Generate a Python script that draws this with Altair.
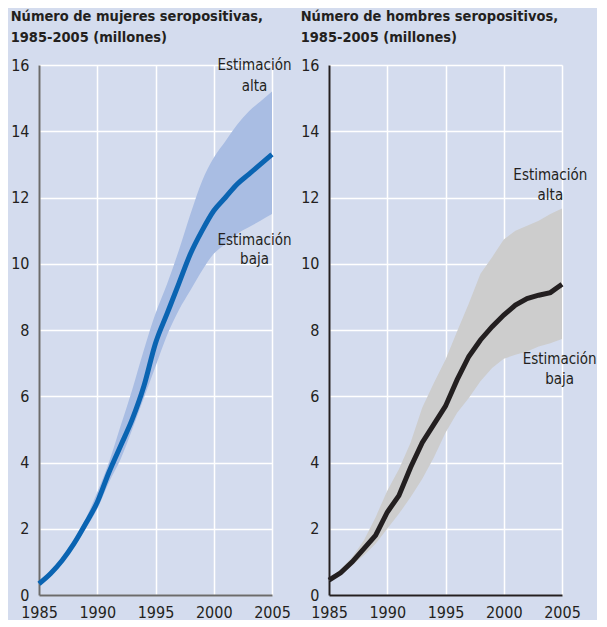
import altair as alt
import pandas as pd

years = list(range(1985, 2006))

women_mid = [0.34, 0.65, 1.05, 1.55, 2.15, 2.8, 3.7, 4.5, 5.3, 6.3, 7.6, 8.5, 9.4, 10.3, 11.0, 11.6, 12.0, 12.4, 12.7, 13.0, 13.3]
women_low = [0.32, 0.6, 1.0, 1.45, 2.0, 2.6, 3.4, 4.1, 5.0, 5.95, 6.9, 7.85, 8.6, 9.2, 9.8, 10.3, 10.6, 10.9, 11.1, 11.3, 11.5]
women_high = [0.36, 0.68, 1.1, 1.65, 2.3, 3.1, 4.0, 5.1, 6.2, 7.4, 8.5, 9.4, 10.4, 11.5, 12.5, 13.2, 13.7, 14.2, 14.6, 14.9, 15.2]

men_mid = [0.45, 0.67, 1.0, 1.4, 1.8, 2.5, 3.0, 3.85, 4.6, 5.15, 5.7, 6.5, 7.2, 7.7, 8.1, 8.45, 8.75, 8.95, 9.05, 9.13, 9.38]
men_low = [0.42, 0.6, 0.9, 1.2, 1.55, 2.0, 2.45, 2.95, 3.5, 4.15, 4.9, 5.5, 5.95, 6.45, 6.85, 7.13, 7.25, 7.35, 7.5, 7.6, 7.73]
men_high = [0.5, 0.78, 1.15, 1.65, 2.35, 3.15, 3.8, 4.6, 5.65, 6.4, 7.1, 7.96, 8.8, 9.7, 10.2, 10.73, 11.0, 11.15, 11.3, 11.5, 11.67]

x_ticks = [1985, 1990, 1995, 2000, 2005]
y_ticks = [0, 2, 4, 6, 8, 10, 12, 14, 16]

women_title = ["Número de mujeres seropositivas,", "1985-2005 (millones)"]
men_title = ["Número de hombres seropositivos,", "1985-2005 (millones)"]

# annotation labels (anchored in data coordinates)
women_ann_text = ["Estimación", "alta", "Estimación", "baja"]
women_ann_x = [2003.5, 2003.5, 2003.5, 2003.5]
women_ann_y = [16.0, 15.37, 10.73, 10.13]

men_ann_text = ["Estimación", "alta", "Estimación", "baja"]
men_ann_x = [2004.0, 2004.0, 2004.8, 2004.8]
men_ann_y = [12.67, 12.07, 7.13, 6.53]

BG = "#d4dcee"
FONT = "DejaVu Sans Condensed, Roboto, sans-serif"
TXT = "#231f20"


def panel(mid, low, high, band_color, line_color, title, at, ax, ay, axis_color, interp):
    df = pd.DataFrame({"year": years, "mid": mid, "low": low, "high": high})
    ann = pd.DataFrame({"t": at, "x": ax, "y": ay})
    xs = alt.Scale(domain=[1985, 2005], nice=False, zero=False)
    ys = alt.Scale(domain=[0, 16], nice=False)
    xaxis = alt.Axis(values=x_ticks, format="d", title=None, domainColor=axis_color,
                     domainWidth=2, labelPadding=9, labelFlush=False, labelOverlap=False)
    yaxis = alt.Axis(values=y_ticks, title=None, domainColor=axis_color,
                     domainWidth=2, labelPadding=10)
    band = alt.Chart(df).mark_area(color=band_color, opacity=1, interpolate=interp).encode(
        x=alt.X("year:Q", scale=xs, axis=xaxis),
        y=alt.Y("low:Q", scale=ys, axis=yaxis),
        y2="high:Q",
    )
    line = alt.Chart(df).mark_line(color=line_color, strokeWidth=5, interpolate=interp).encode(
        x=alt.X("year:Q", scale=xs),
        y=alt.Y("mid:Q", scale=ys),
    )
    text = alt.Chart(ann).mark_text(font=FONT, fontSize=15, color=TXT, align="center",
                                    baseline="middle").encode(
        x=alt.X("x:Q", scale=xs),
        y=alt.Y("y:Q", scale=ys),
        text="t:N",
    )
    return alt.layer(band, line, text).properties(
        width=233, height=530,
        title=alt.Title(title, anchor="start", frame="bounds", font=FONT, fontSize=14.5,
                        fontWeight="bold", color=TXT, lineHeight=21, offset=12),
    )


left = panel(women_mid, women_low, women_high, "#a9bde3", "#0a64b2", women_title,
             women_ann_text, women_ann_x, women_ann_y, "#6b6b6b", "monotone")
right = panel(men_mid, men_low, men_high, "#cdcdcd", "#231f20", men_title,
              men_ann_text, men_ann_x, men_ann_y, "#231f20", "linear")

chart = alt.hconcat(left, right, spacing=57, bounds="flush").properties(
    background=BG, padding={"left": 2, "top": 0, "right": 0, "bottom": 0}
).configure_view(stroke=None).configure_axis(
    grid=True, gridColor="white", gridWidth=1.5, tickSize=0,
    labelFont=FONT, labelFontSize=16, labelColor=TXT,
)

chart.save("out.html", embed_options={"renderer": "svg", "actions": False})
